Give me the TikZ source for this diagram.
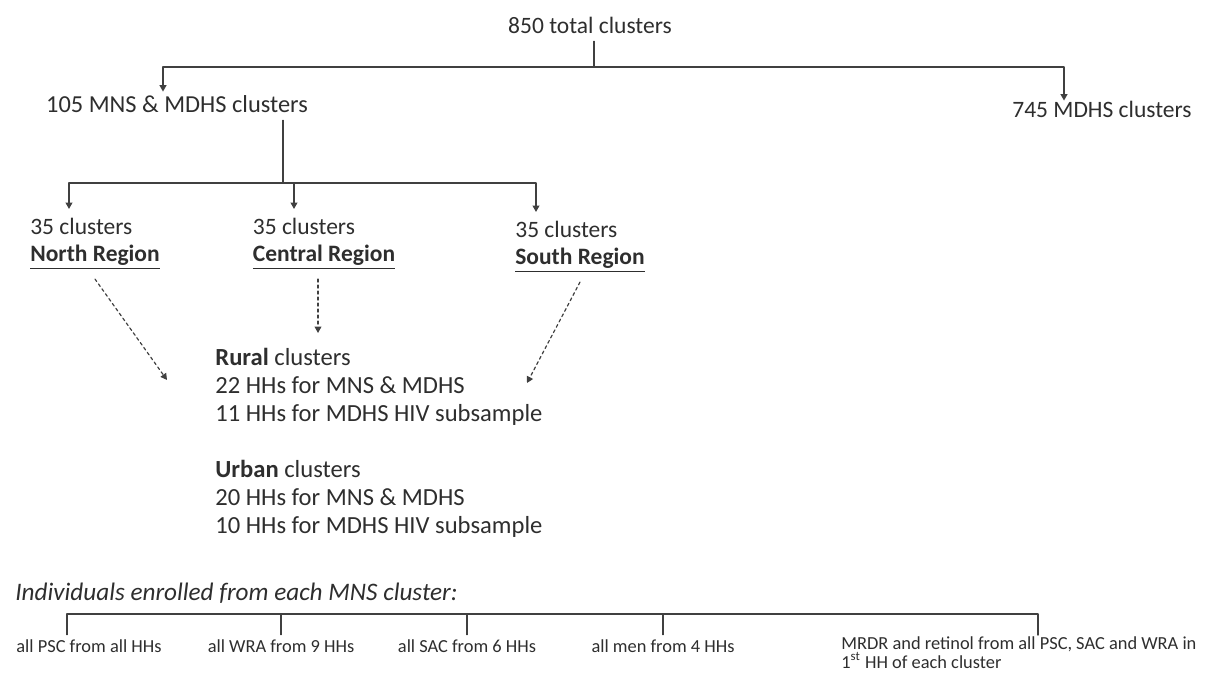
\documentclass[tikz,border=0pt]{standalone}
\usepackage{fontspec}
\setmainfont{Carlito}
\usepackage{tikz}
\usetikzlibrary{calc}
\usetikzlibrary{arrows.meta}
\definecolor{linegray}{rgb}{0.25,0.25,0.25}
\definecolor{textgray}{rgb}{0.18,0.18,0.18}
\tikzstyle{every node}=[font=\fontsize{11.75}{13.5}\selectfont,text=textgray,inner sep=1.5pt]
\tikzstyle{oneline}=[text height=0.7em,text depth=0.2em]
\tikzstyle{region}=[align=left,inner sep=4.5pt,anchor=north]
\tikzstyle{block}=[align=left,anchor=north west,font=\fontsize{12.3}{14}\selectfont]
\tikzstyle{small}=[font=\fontsize{9.2}{9.6}\selectfont,inner sep=1.5pt]
\tikzstyle{conn}=[line width=0.7pt,color=linegray]
\tikzstyle{dashconn}=[line width=0.6pt,color=linegray,dash pattern=on 1.5pt off 1.5pt]

\begin{document}
\begin{tikzpicture}[line cap=round,line join=round,>={Triangle[length=3.2pt,width=3.4pt]},x=0.5pt,y=-0.5pt]
\useasboundingbox (0,0) rectangle (1205,673);
% first split
\node[oneline] (total) at (590,29) {850 total clusters};
\node[oneline,font=\fontsize{12.2}{14}\selectfont] (mns) at (177,108) {105 MNS \& MDHS clusters};
\node[oneline] (mdhs) at (1102,113) {745 MDHS clusters};
\coordinate (split) at (594,67);
\draw[conn] (split |- total.south) -- (split);
\draw[conn,->,shorten >=2pt] (split) -| ([xshift=-7]mns.north);
\draw[conn,->] (split) -| ([xshift=-19]mdhs.north);
% regions
\node[region] (north) at (95,209) {35 clusters\\\underline{\textbf{North Region}}};
\node[region] (central) at (324,209) {35 clusters\\\underline{\textbf{Central Region}}};
\node[region] (south) at (580,212) {35 clusters\\\underline{\textbf{South Region}}};
\coordinate (split2) at (283,183);
\draw[conn] (split2 |- mns.south) -- (split2);
\draw[conn,->] (split2) -| ([xshift=-13]north.north);
\draw[conn,->] (split2) -| ([xshift=-15]central.north);
\draw[conn,->] (split2) -| ([xshift=-22]south.north);
% households per cluster
\node[block] (rural) at (212,345) {\textbf{Rural} clusters\\22 HHs for MNS \& MDHS\\11 HHs for MDHS HIV subsample};
\node[block] (urban) at (212,457) {\textbf{Urban} clusters\\20 HHs for MNS \& MDHS\\10 HHs for MDHS HIV subsample};
\coordinate (nTip) at (167,380);
\coordinate (cTip) at (318,333);
\coordinate (sTip) at (527,383);
\draw[dashconn,->] (north.south) -- (nTip);
\draw[dashconn,->] (cTip |- central.south) -- (cTip);
\draw[dashconn,->] (south.south) -- (sTip);
% individuals
\node[oneline,anchor=west,font=\fontsize{12.6}{14}\selectfont\itshape] (indiv) at (12,595) {Individuals enrolled from each MNS cluster:};
\node[small,oneline] (psc) at (89,647) {all PSC from all HHs};
\node[small,oneline] (wra) at (281,647) {all WRA from 9 HHs};
\node[small,oneline] (sac) at (467,647) {all SAC from 6 HHs};
\node[small,oneline] (men) at (663,647) {all men from 4 HHs};
\node[small,align=left,anchor=north west,inner sep=0.5pt] (mrdr) at (840,635) {MRDR and retinol from all PSC, SAC and WRA in\\1\textsuperscript{st} HH of each cluster};
\coordinate (bar) at (1038,614);
\draw[conn] ([xshift=-11]psc.north) |- (bar) -- (bar |- mrdr.north);
\foreach \n in {wra,sac,men}
  \draw[conn] (\n.north) -- (\n.north |- bar);
\end{tikzpicture}
\end{document}
